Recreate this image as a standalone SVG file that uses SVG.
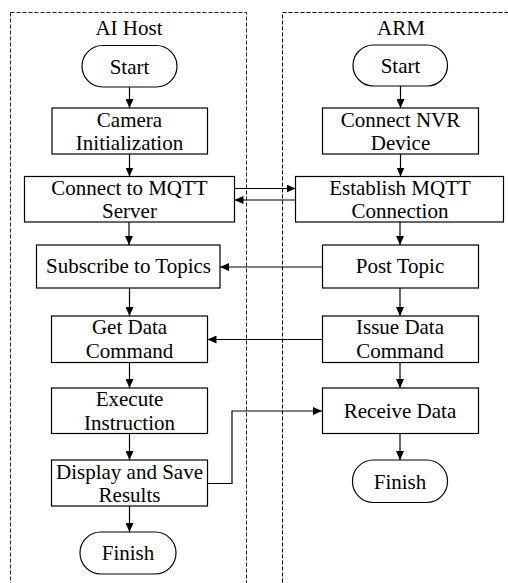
<svg xmlns="http://www.w3.org/2000/svg" width="508" height="583" viewBox="0 0 508 583">
<defs>
<style>
.lane{fill:none;stroke:#000;stroke-width:1;stroke-dasharray:4,2}
.box{fill:#fff;stroke:#000;stroke-width:1.2}
.t{font-family:"Liberation Serif","Times New Roman",serif;font-size:21px;fill:#000;text-anchor:middle}
.c{fill:none;stroke:#000;stroke-width:1.2}
</style>
<marker id="ah" markerUnits="userSpaceOnUse" markerWidth="9" markerHeight="8" refX="9" refY="4" orient="auto">
<path d="M0,0 L9,4 L0,8 Z" fill="#000"/>
</marker>
</defs>
<rect width="508" height="583" fill="#fff"/>
<g id="lane-ai">
<rect class="lane" x="10.5" y="12.5" width="236" height="600" style="stroke:#222"/>
<text class="t" x="129" y="35">AI Host</text>
</g>
<g id="lane-arm">
<rect class="lane" x="282.5" y="12.5" width="240" height="600"/>
<text class="t" x="401" y="35">ARM</text>
</g>
<g id="connectors">
<line class="c" x1="129.5" y1="87" x2="129.5" y2="108" marker-end="url(#ah)"/>
<line class="c" x1="129.5" y1="154" x2="129.5" y2="176.5" marker-end="url(#ah)"/>
<line class="c" x1="129" y1="222" x2="129" y2="245" marker-end="url(#ah)"/>
<line class="c" x1="129.5" y1="288" x2="129.5" y2="316" marker-end="url(#ah)"/>
<line class="c" x1="129.5" y1="362.5" x2="129.5" y2="388" marker-end="url(#ah)"/>
<line class="c" x1="129.5" y1="433.5" x2="129.5" y2="460" marker-end="url(#ah)"/>
<line class="c" x1="129.5" y1="506" x2="129.5" y2="532" marker-end="url(#ah)"/>
<line class="c" x1="400.5" y1="86" x2="400.5" y2="108" marker-end="url(#ah)"/>
<line class="c" x1="400.5" y1="154" x2="400.5" y2="176.5" marker-end="url(#ah)"/>
<line class="c" x1="400" y1="222" x2="400" y2="245" marker-end="url(#ah)"/>
<line class="c" x1="400" y1="288" x2="400" y2="316" marker-end="url(#ah)"/>
<line class="c" x1="400" y1="362.5" x2="400" y2="388" marker-end="url(#ah)"/>
<line class="c" x1="400" y1="433.5" x2="400" y2="460" marker-end="url(#ah)"/>
<line class="c" x1="234.5" y1="188.5" x2="295.5" y2="188.5" marker-end="url(#ah)"/>
<line class="c" x1="295.5" y1="200" x2="234.5" y2="200" marker-end="url(#ah)"/>
<line class="c" x1="322" y1="267" x2="220" y2="267" marker-end="url(#ah)"/>
<line class="c" x1="322" y1="339.5" x2="207.5" y2="339.5" marker-end="url(#ah)"/>
<polyline class="c" points="207.5,483.5 232,483.5 232,411 322,411" marker-end="url(#ah)"/>
</g>
<g id="ai-start">
<rect class="box" x="82" y="45.5" width="95" height="41.5" rx="20.75"/>
<text class="t" x="129.5" y="74">Start</text>
</g>
<g id="ai-camera">
<rect class="box" x="52" y="108" width="155.5" height="46"/>
<text class="t" x="129.5" y="127">Camera</text>
<text class="t" x="129.5" y="150">Initialization</text>
</g>
<g id="ai-connect">
<rect class="box" x="24.5" y="176.5" width="210" height="45.5"/>
<text class="t" x="129.5" y="194.5">Connect to MQTT</text>
<text class="t" x="129.5" y="218">Server</text>
</g>
<g id="ai-subscribe">
<rect class="box" x="36.5" y="245" width="183.5" height="43"/>
<text class="t" x="128.5" y="273">Subscribe to Topics</text>
</g>
<g id="ai-getdata">
<rect class="box" x="51.5" y="316" width="156" height="46.5"/>
<text class="t" x="129.5" y="334">Get Data</text>
<text class="t" x="129.5" y="358">Command</text>
</g>
<g id="ai-execute">
<rect class="box" x="51.5" y="388" width="156" height="45.5"/>
<text class="t" x="129.5" y="406">Execute</text>
<text class="t" x="129.5" y="430">Instruction</text>
</g>
<g id="ai-display">
<rect class="box" x="51.5" y="460" width="156" height="46"/>
<text class="t" x="129.5" y="478.5">Display and Save</text>
<text class="t" x="129.5" y="502">Results</text>
</g>
<g id="ai-finish">
<rect class="box" x="80" y="532" width="96" height="42" rx="21"/>
<text class="t" x="128" y="560">Finish</text>
</g>
<g id="arm-start">
<rect class="box" x="353" y="45" width="94.5" height="41" rx="20.5"/>
<text class="t" x="400.5" y="73">Start</text>
</g>
<g id="arm-nvr">
<rect class="box" x="322.5" y="108" width="156" height="46"/>
<text class="t" x="400.5" y="127">Connect NVR</text>
<text class="t" x="400.5" y="150">Device</text>
</g>
<g id="arm-establish">
<rect class="box" x="295.5" y="176.5" width="208" height="45.5"/>
<text class="t" x="400" y="194.5">Establish MQTT</text>
<text class="t" x="400" y="218">Connection</text>
</g>
<g id="arm-post">
<rect class="box" x="322.5" y="245" width="156" height="43"/>
<text class="t" x="400" y="273">Post Topic</text>
</g>
<g id="arm-issue">
<rect class="box" x="322.5" y="316" width="156" height="46.5"/>
<text class="t" x="400" y="334">Issue Data</text>
<text class="t" x="400" y="358">Command</text>
</g>
<g id="arm-receive">
<rect class="box" x="322.5" y="388" width="156" height="45.5"/>
<text class="t" x="400" y="418">Receive Data</text>
</g>
<g id="arm-finish">
<rect class="box" x="352.5" y="460" width="95" height="42.5" rx="21"/>
<text class="t" x="400" y="489">Finish</text>
</g>
</svg>
